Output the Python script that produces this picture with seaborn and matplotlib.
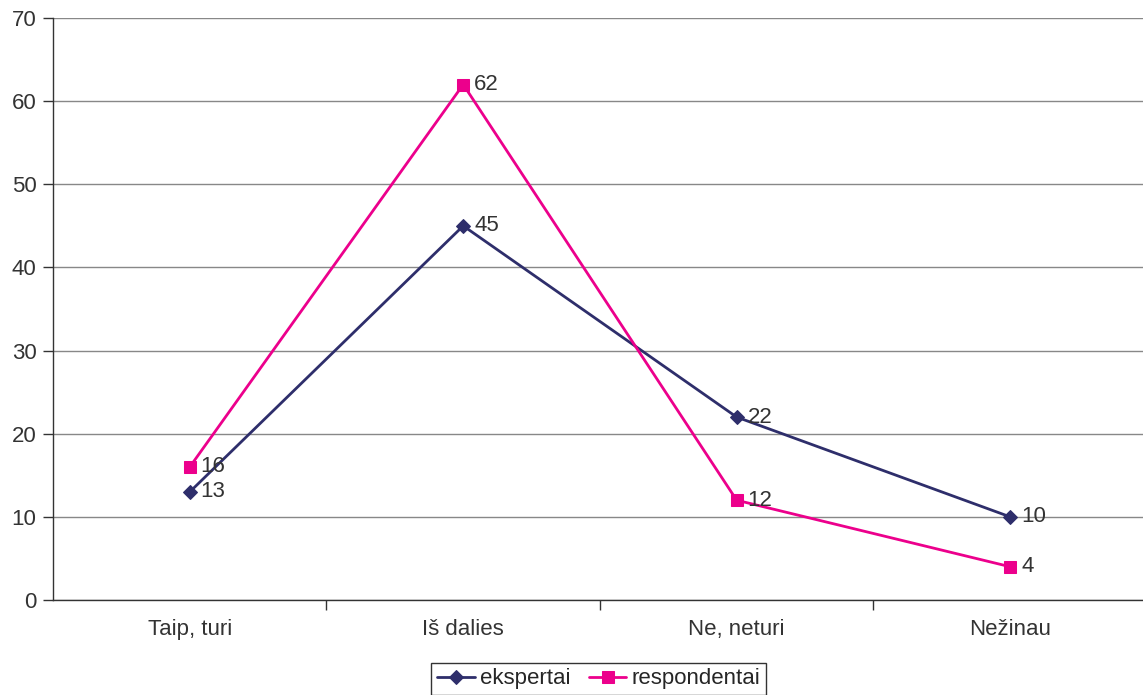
import matplotlib
matplotlib.use("Agg")
import matplotlib.pyplot as plt
import seaborn as sns
import pandas as pd

categories = ["Taip, turi", "Iš dalies", "Ne, neturi", "Nežinau"]
ekspertai = [13, 45, 22, 10]
respondentai = [16, 62, 12, 4]

sns.set_style("white")
plt.rcParams['font.family'] = ['Liberation Sans', 'DejaVu Sans']

fig = plt.figure(figsize=(11.43, 6.95), dpi=100)
ax = fig.add_axes([0.0464, 0.1367, 0.957, 0.8374])

x = list(range(len(categories)))
sns.lineplot(x=x, y=ekspertai, ax=ax, color="#2e2e6b", marker="D", markersize=7,
             markeredgecolor="#2e2e6b", linewidth=2, label="ekspertai")
sns.lineplot(x=x, y=respondentai, ax=ax, color="#ec008c", marker="s", markersize=9,
             markeredgecolor="#ec008c", linewidth=2, label="respondentai")

for i, v in enumerate(ekspertai):
    ax.text(i + 0.04, v, str(v), fontsize=16, color="#333333", va="center", ha="left")
for i, v in enumerate(respondentai):
    ax.text(i + 0.04, v, str(v), fontsize=16, color="#333333", va="center", ha="left")

ax.set_xlim(-0.5, 3.5)
ax.set_ylim(0, 70)
ax.set_yticks(range(0, 71, 10))
ax.set_xticks(x)
ax.set_xticklabels(categories, va="baseline")
ax.set_xticks([0.5, 1.5, 2.5, 3.5], minor=True)
ax.tick_params(axis='x', which='major', length=0, labelsize=16, pad=25, colors="#333333")
ax.tick_params(axis='x', which='minor', length=7, width=1, color="#333333", direction="out", bottom=True)
ax.tick_params(axis='y', length=7, width=1, labelsize=16, colors="#333333", direction="out", left=True, pad=5)
ax.grid(axis='y', color="#888888", linewidth=1)
for s in ["top", "right"]:
    ax.spines[s].set_visible(False)
for s in ["left", "bottom"]:
    ax.spines[s].set_color("#333333")
    ax.spines[s].set_linewidth(1)

leg = ax.legend(loc="upper center", bbox_to_anchor=(0.499, -0.108), ncol=2, frameon=True,
                fontsize=16, handlelength=1.7, handletextpad=0.25, columnspacing=0.8,
                borderpad=0.25, borderaxespad=0, fancybox=False)
leg.get_frame().set_edgecolor("#000000")
leg.get_frame().set_linewidth(1)

fig.savefig("out.png", dpi=100)
